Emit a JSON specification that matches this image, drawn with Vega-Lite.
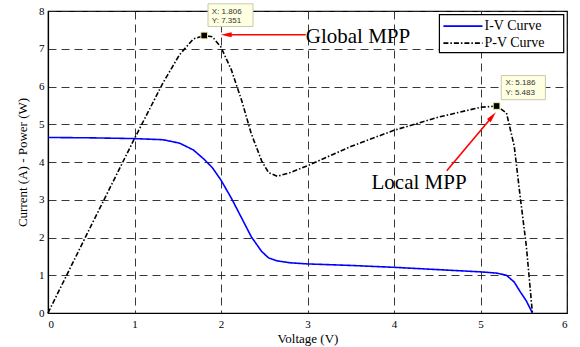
{
  "$schema": "https://vega.github.io/schema/vega-lite/v6.json",
  "width": 519,
  "height": 302,
  "autosize": {"type": "none"},
  "padding": {"left": 48, "top": 11, "right": 13, "bottom": 34},
  "background": "white",
  "config": {
    "view": {"stroke": "black", "strokeWidth": 1.2},
    "axis": {
      "labelFont": "Liberation Serif", "labelFontSize": 11, "labelColor": "black",
      "titleFont": "Liberation Serif", "titleFontSize": 13, "titleFontWeight": "normal", "titleColor": "black",
      "grid": true, "gridDash": [8, 5], "gridColor": "#222", "gridOpacity": 0.9, "gridWidth": 1,
      "domain": true, "domainColor": "black", "domainWidth": 1.2,
      "ticks": false
    }
  },
  "datasets": {
    "curves": [
      {"V": 0, "P": 4.65, "series": "I-V Curve"},
      {"V": 0.5, "P": 4.64, "series": "I-V Curve"},
      {"V": 1.0, "P": 4.62, "series": "I-V Curve"},
      {"V": 1.33, "P": 4.59, "series": "I-V Curve"},
      {"V": 1.52, "P": 4.5, "series": "I-V Curve"},
      {"V": 1.68, "P": 4.32, "series": "I-V Curve"},
      {"V": 1.806, "P": 4.07, "series": "I-V Curve"},
      {"V": 1.9, "P": 3.85, "series": "I-V Curve"},
      {"V": 2.0, "P": 3.52, "series": "I-V Curve"},
      {"V": 2.12, "P": 3.04, "series": "I-V Curve"},
      {"V": 2.24, "P": 2.51, "series": "I-V Curve"},
      {"V": 2.35, "P": 2.02, "series": "I-V Curve"},
      {"V": 2.47, "P": 1.63, "series": "I-V Curve"},
      {"V": 2.55, "P": 1.46, "series": "I-V Curve"},
      {"V": 2.65, "P": 1.38, "series": "I-V Curve"},
      {"V": 2.8, "P": 1.33, "series": "I-V Curve"},
      {"V": 3.0, "P": 1.3, "series": "I-V Curve"},
      {"V": 3.5, "P": 1.26, "series": "I-V Curve"},
      {"V": 4.0, "P": 1.21, "series": "I-V Curve"},
      {"V": 4.5, "P": 1.15, "series": "I-V Curve"},
      {"V": 5.0, "P": 1.09, "series": "I-V Curve"},
      {"V": 5.186, "P": 1.057, "series": "I-V Curve"},
      {"V": 5.3, "P": 1.0, "series": "I-V Curve"},
      {"V": 5.39, "P": 0.82, "series": "I-V Curve"},
      {"V": 5.46, "P": 0.56, "series": "I-V Curve"},
      {"V": 5.53, "P": 0.32, "series": "I-V Curve"},
      {"V": 5.6, "P": 0, "series": "I-V Curve"},
      {"V": 0, "P": 0, "series": "P-V Curve"},
      {"V": 0.5, "P": 2.32, "series": "P-V Curve"},
      {"V": 1.0, "P": 4.62, "series": "P-V Curve"},
      {"V": 1.33, "P": 6.1, "series": "P-V Curve"},
      {"V": 1.52, "P": 6.84, "series": "P-V Curve"},
      {"V": 1.68, "P": 7.26, "series": "P-V Curve"},
      {"V": 1.806, "P": 7.351, "series": "P-V Curve"},
      {"V": 1.9, "P": 7.32, "series": "P-V Curve"},
      {"V": 2.0, "P": 7.04, "series": "P-V Curve"},
      {"V": 2.12, "P": 6.44, "series": "P-V Curve"},
      {"V": 2.24, "P": 5.62, "series": "P-V Curve"},
      {"V": 2.35, "P": 4.75, "series": "P-V Curve"},
      {"V": 2.47, "P": 4.03, "series": "P-V Curve"},
      {"V": 2.55, "P": 3.72, "series": "P-V Curve"},
      {"V": 2.65, "P": 3.62, "series": "P-V Curve"},
      {"V": 2.8, "P": 3.72, "series": "P-V Curve"},
      {"V": 3.0, "P": 3.9, "series": "P-V Curve"},
      {"V": 3.5, "P": 4.41, "series": "P-V Curve"},
      {"V": 4.0, "P": 4.84, "series": "P-V Curve"},
      {"V": 4.5, "P": 5.18, "series": "P-V Curve"},
      {"V": 5.0, "P": 5.45, "series": "P-V Curve"},
      {"V": 5.186, "P": 5.483, "series": "P-V Curve"},
      {"V": 5.3, "P": 5.3, "series": "P-V Curve"},
      {"V": 5.39, "P": 4.42, "series": "P-V Curve"},
      {"V": 5.46, "P": 3.06, "series": "P-V Curve"},
      {"V": 5.53, "P": 1.77, "series": "P-V Curve"},
      {"V": 5.6, "P": 0, "series": "P-V Curve"}
    ],
    "mpp": [
      {"V": 1.806, "P": 7.351},
      {"V": 5.186, "P": 5.483}
    ],
    "boxes": [
      {"V": 1.85, "V2": 2.37, "P": 8.19, "P2": 7.59},
      {"V": 5.24, "V2": 5.75, "P": 6.29, "P2": 5.65}
    ],
    "tiptext": [
      {"V": 1.894, "P": 7.97, "label": "X: 1.806"},
      {"V": 1.894, "P": 7.74, "label": "Y: 7.351"},
      {"V": 5.29, "P": 6.1, "label": "X: 5.186"},
      {"V": 5.29, "P": 5.83, "label": "Y: 5.483"}
    ],
    "arrows": [
      {"name": "global", "V": 2.98, "P": 7.37, "V2": 2.06, "P2": 7.37},
      {"name": "local", "V": 4.61, "P": 3.77, "V2": 5.137, "P2": 5.205}
    ],
    "heads": [
      {"name": "global", "V": 2.06, "P": 7.37},
      {"name": "local", "V": 5.137, "P": 5.205}
    ],
    "notes": [
      {"name": "global", "V": 2.98, "P": 7.32, "label": "Global MPP"},
      {"name": "local", "V": 4.29, "P": 3.45, "label": "Local MPP"}
    ],
    "legendbox": [
      {"V": 4.525, "V2": 5.962, "P": 7.905, "P2": 6.897}
    ],
    "legendlines": [
      {"series": "I-V Curve", "V": 4.571, "V2": 5.023, "P": 7.6},
      {"series": "P-V Curve", "V": 4.571, "V2": 5.023, "P": 7.15}
    ],
    "legendtext": [
      {"series": "I-V Curve", "V": 5.046, "P": 7.6},
      {"series": "P-V Curve", "V": 5.046, "P": 7.15}
    ]
  },
  "encoding": {
    "x": {"field": "V", "type": "quantitative", "scale": {"domain": [0, 6], "nice": false}, "axis": {"title": "Voltage (V)", "values": [0, 1, 2, 3, 4, 5, 6], "format": "d", "labelPadding": 5, "titlePadding": 3, "labelFont": "Liberation Serif", "titleFont": "Liberation Serif", "labelFontSize": 11, "titleFontSize": 13}},
    "y": {"field": "P", "type": "quantitative", "scale": {"domain": [0, 8], "nice": false}, "axis": {"title": "Current (A) - Power (W)", "values": [0, 1, 2, 3, 4, 5, 6, 7, 8], "format": "d", "labelPadding": 4, "titlePadding": 9, "labelFont": "Liberation Serif", "titleFont": "Liberation Serif", "labelFontSize": 11, "titleFontSize": 13}}
  },
  "layer": [
    {
      "data": {"name": "curves"},
      "mark": {"type": "line", "strokeWidth": 1.6},
      "encoding": {
        "color": {"field": "series", "type": "nominal", "scale": {"domain": ["I-V Curve", "P-V Curve"], "range": ["#0000ff", "#000000"]}, "legend": null},
        "strokeDash": {"field": "series", "type": "nominal", "scale": {"domain": ["I-V Curve", "P-V Curve"], "range": [[1, 0], [5, 2, 1.5, 2]]}, "legend": null}
      }
    },
    {
      "data": {"name": "boxes"},
      "mark": {"type": "rect", "fill": "#ffffe1", "stroke": "#c8c8b0", "strokeWidth": 1},
      "encoding": {"x2": {"field": "V2"}, "y2": {"field": "P2"}}
    },
    {
      "data": {"name": "tiptext"},
      "mark": {"type": "text", "align": "left", "baseline": "middle", "font": "Liberation Sans", "fontSize": 8, "color": "#333"},
      "encoding": {"text": {"field": "label"}}
    },
    {
      "data": {"name": "mpp"},
      "mark": {"type": "point", "shape": "square", "filled": true, "size": 45, "color": "black", "stroke": "#f4f0a0", "strokeWidth": 1, "opacity": 1},
      "encoding": {}
    },
    {
      "data": {"name": "arrows"},
      "mark": {"type": "rule", "color": "red", "strokeWidth": 1.6},
      "encoding": {"x2": {"field": "V2"}, "y2": {"field": "P2"}}
    },
    {
      "data": {"name": "heads"},
      "transform": [{"filter": "datum.name === 'global'"}],
      "mark": {"type": "point", "shape": "M0,-1L0.45,1L-0.45,1Z", "filled": true, "color": "red", "size": 120, "angle": 270, "opacity": 1},
      "encoding": {}
    },
    {
      "data": {"name": "heads"},
      "transform": [{"filter": "datum.name === 'local'"}],
      "mark": {"type": "point", "shape": "M0,-1L0.45,1L-0.45,1Z", "filled": true, "color": "red", "size": 120, "angle": 40, "opacity": 1},
      "encoding": {}
    },
    {
      "data": {"name": "notes"},
      "transform": [{"filter": "datum.name === 'global'"}],
      "mark": {"type": "text", "align": "left", "baseline": "middle", "font": "Liberation Serif", "fontSize": 21, "color": "black"},
      "encoding": {"text": {"field": "label"}}
    },
    {
      "data": {"name": "notes"},
      "transform": [{"filter": "datum.name === 'local'"}],
      "mark": {"type": "text", "align": "center", "baseline": "middle", "font": "Liberation Serif", "fontSize": 21, "color": "black"},
      "encoding": {"text": {"field": "label"}}
    },
    {
      "data": {"name": "legendbox"},
      "mark": {"type": "rect", "fill": "white", "stroke": "black", "strokeWidth": 1.2},
      "encoding": {"x2": {"field": "V2"}, "y2": {"field": "P2"}}
    },
    {
      "data": {"name": "legendlines"},
      "mark": {"type": "rule", "strokeWidth": 1.6},
      "encoding": {
        "x2": {"field": "V2"},
        "color": {"field": "series", "type": "nominal", "legend": null},
        "strokeDash": {"field": "series", "type": "nominal", "legend": null}
      }
    },
    {
      "data": {"name": "legendtext"},
      "mark": {"type": "text", "align": "left", "baseline": "middle", "font": "Liberation Serif", "fontSize": 14, "color": "black"},
      "encoding": {"text": {"field": "series"}}
    }
  ]
}
